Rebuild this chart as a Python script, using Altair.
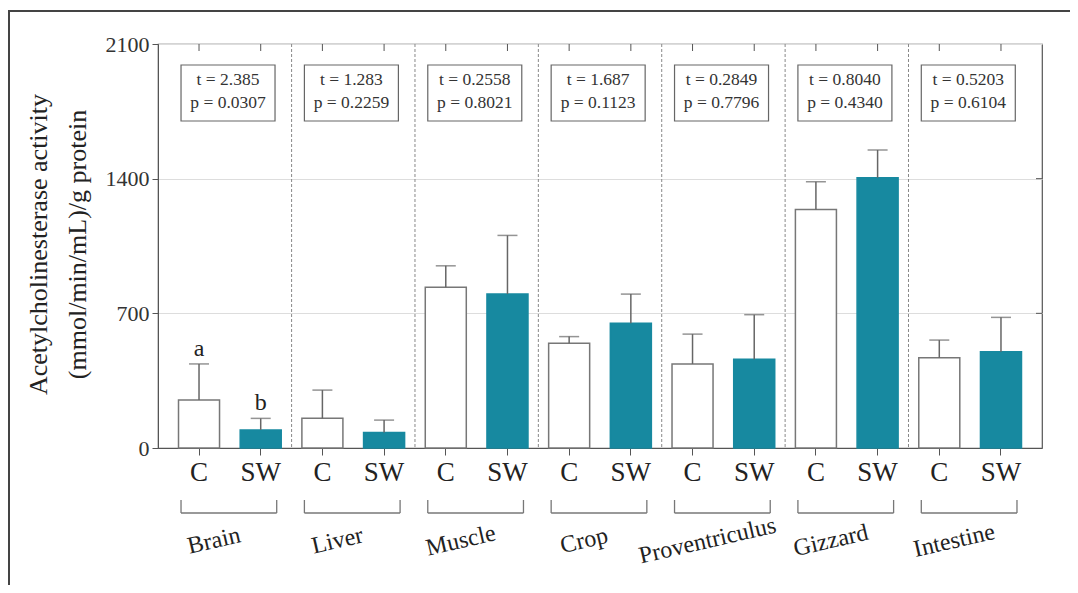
import altair as alt
import pandas as pd

groups = ["Brain", "Liver", "Muscle", "Crop", "Proventriculus", "Gizzard", "Intestine"]
treatments = ["C", "SW"]
c_mean = [250, 154, 835, 544, 437, 1240, 469]
c_upper = [437, 301, 947, 579, 592, 1384, 561]
sw_mean = [94, 81, 800, 648, 461, 1405, 500]
sw_upper = [154, 145, 1105, 800, 693, 1549, 679]
t_vals = ["2.385", "1.283", "0.2558", "1.687", "0.2849", "0.8040", "0.5203"]
p_vals = ["0.0307", "0.2259", "0.8021", "0.1123", "0.7796", "0.4340", "0.6104"]
letters = {"Brain|C": "a", "Brain|SW": "b"}
y_ticks = [0, 700, 1400, 2100]

SERIF = "Liberation Serif"
TEAL = "#1789a0"
GREY = "#555555"

rows = []
for i, g in enumerate(groups):
    rows.append({"bar": f"{g}|C", "group": g, "trt": "C", "mean": c_mean[i], "upper": c_upper[i]})
    rows.append({"bar": f"{g}|SW", "group": g, "trt": "SW", "mean": sw_mean[i], "upper": sw_upper[i]})
bars_df = pd.DataFrame(rows)
bar_order = list(bars_df["bar"])

grp_df = pd.DataFrame({
    "group": groups,
    "cbar": [f"{g}|C" for g in groups],
    "swbar": [f"{g}|SW" for g in groups],
    "tline": [f"t = {t}" for t in t_vals],
    "pline": [f"p = {p}" for p in p_vals],
})
div_df = grp_df.iloc[1:]
let_df = bars_df[bars_df["bar"].isin(list(letters))].assign(letter=lambda d: d["bar"].map(letters))
tick_df = pd.DataFrame({"v": y_ticks[1:3]})
one_df = pd.DataFrame({"k": [0]})

W, H = 884, 404
xscale = alt.Scale(domain=bar_order, paddingInner=0.335, paddingOuter=0.3325)
X = alt.X("bar:N", scale=xscale, sort=bar_order,
          axis=alt.Axis(title=None, labelExpr="split(datum.label, '|')[1]", labelAngle=0,
                        labelFont=SERIF, labelFontSize=27, labelColor="#222",
                        tickSize=7, tickColor=GREY, domainColor=GREY, labelPadding=4))
Y = alt.Y("mean:Q", scale=alt.Scale(domain=[0, 2100], nice=False, zero=True),
          axis=alt.Axis(values=y_ticks, format="d",
                        title=["Acetylcholinesterase activity", "(mmol/min/mL)/g protein"],
                        titleFont=SERIF, titleFontSize=26, titleFontWeight="normal", titleColor="#222",
                        titleLineHeight=39, titleAngle=270, titleX=-120, titleY=H / 2 - 2,
                        titleAlign="center", titleBaseline="middle",
                        labelFont=SERIF, labelFontSize=22, labelColor="#333", labelPadding=3,
                        tickSize=6, tickColor=GREY, domainColor=GREY,
                        grid=True, gridColor="#dddddd", gridWidth=1))

base = alt.Chart(bars_df)

frame = alt.Chart(one_df).mark_rect(fill=None, stroke="#444", strokeWidth=2).encode(
    x=alt.value(-149), x2=alt.value(3000), y=alt.value(-33), y2=alt.value(3000))

bars = base.mark_bar(strokeWidth=1.5).encode(
    x=X, y=Y,
    fill=alt.Fill("trt:N", scale=alt.Scale(domain=treatments, range=["white", TEAL]), legend=None),
    stroke=alt.Stroke("trt:N", scale=alt.Scale(domain=treatments, range=["#777777", TEAL]), legend=None),
)

err = base.mark_rule(color="#666", strokeWidth=1.5).encode(
    x=alt.X("bar:N", sort=bar_order), y="mean:Q", y2="upper:Q")
caps = base.mark_tick(color="#666", size=20, thickness=1.5, orient="horizontal").encode(
    x=alt.X("bar:N", sort=bar_order), y="upper:Q")

let = alt.Chart(let_df).mark_text(font=SERIF, fontSize=24, color="#222", baseline="bottom", dy=-3).encode(
    x=alt.X("bar:N", sort=bar_order), y="upper:Q", text="letter:N")

dividers = alt.Chart(div_df).mark_rule(color="#888", strokeDash=[3, 2], strokeWidth=1, xOffset=-30.8).encode(
    x=alt.X("cbar:N", sort=bar_order), y=alt.value(0), y2=alt.value(H))

top_ticks = base.mark_rule(color=GREY, strokeWidth=1).encode(
    x=alt.X("bar:N", sort=bar_order), y=alt.value(0), y2=alt.value(7))
right_ticks = alt.Chart(tick_df).mark_rule(color=GREY, strokeWidth=1).encode(
    x=alt.value(W), x2=alt.value(W - 6), y=alt.Y("v:Q"))

boxes = alt.Chart(grp_df).mark_rect(width=94, xOffset=29, fill="white", stroke="#666", strokeWidth=1.2).encode(
    x=alt.X("cbar:N", sort=bar_order), y=alt.value(21), y2=alt.value(77))
tline = alt.Chart(grp_df).mark_text(font=SERIF, fontSize=17.5, color="#333", xOffset=29).encode(
    x=alt.X("cbar:N", sort=bar_order), y=alt.value(36), text="tline:N")
pline = alt.Chart(grp_df).mark_text(font=SERIF, fontSize=17.5, color="#333", xOffset=29).encode(
    x=alt.X("cbar:N", sort=bar_order), y=alt.value(59), text="pline:N")

br_h = alt.Chart(grp_df).mark_rule(color="#777", strokeWidth=1.3, xOffset=-18, x2Offset=16).encode(
    x=alt.X("cbar:N", sort=bar_order), x2="swbar:N", y=alt.value(469))
br_l = alt.Chart(grp_df).mark_rule(color="#777", strokeWidth=1.3, xOffset=-18).encode(
    x=alt.X("cbar:N", sort=bar_order), y=alt.value(456), y2=alt.value(469))
br_r = alt.Chart(grp_df).mark_rule(color="#777", strokeWidth=1.3, xOffset=16).encode(
    x=alt.X("swbar:N", sort=bar_order), y=alt.value(456), y2=alt.value(469))

glabels = alt.Chart(grp_df).mark_text(font=SERIF, fontSize=24, color="#222", angle=347, xOffset=15).encode(
    x=alt.X("cbar:N", sort=bar_order), y=alt.value(497), text="group:N")

chart = alt.layer(
    frame, bars, err, caps, let, dividers, top_ticks, right_ticks,
    boxes, tline, pline, br_h, br_l, br_r, glabels
).properties(
    width=W, height=H,
    autosize=alt.AutoSizeParams(type="none"),
    padding={"left": 150, "top": 36, "right": 28, "bottom": 137},
    background="white",
).configure_view(stroke=GREY, strokeWidth=1.2)

chart.save("out.html", embed_options={"renderer": "svg", "actions": False})
